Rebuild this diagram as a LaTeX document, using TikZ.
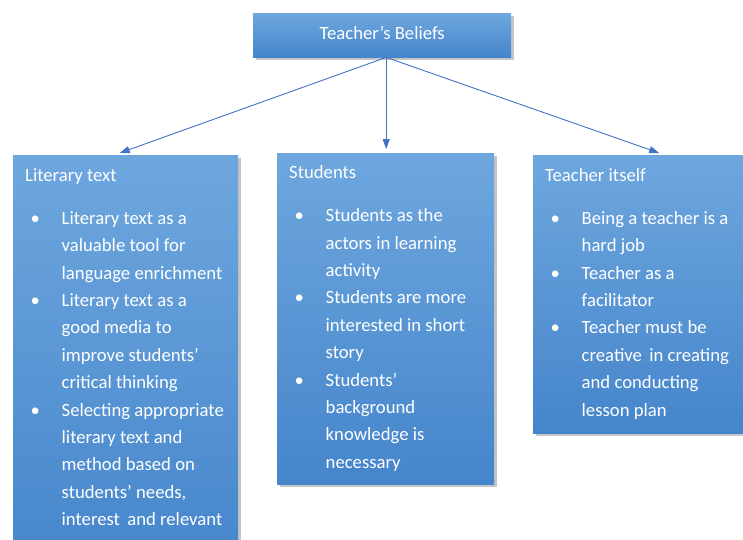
\documentclass[tikz,border=0pt]{standalone}
\usepackage{fontspec}
\setmainfont{Carlito}
\usetikzlibrary{arrows.meta,shadows}

\definecolor{cajaarriba}{HTML}{6EA7DE}
\definecolor{cajaabajo}{HTML}{4585CB}
\definecolor{flechaazul}{HTML}{4472C4}

\newcommand{\punto}{\makebox[36.5pt][l]{\makebox[20pt]{\textbullet}}}
\newcommand{\sangria}{\hspace*{36.5pt}}

\begin{document}
\begin{tikzpicture}[x=1pt,y=-1pt,
	caja/.style={anchor=north west, inner sep=0pt, top color=cajaarriba, bottom color=cajaabajo,
		drop shadow={opacity=0.45,shadow xshift=2.5pt,shadow yshift=-3pt}},
	texto/.style={anchor=north west, inner sep=0pt, align=left, text=white,
		font=\fontsize{18.7}{27.4}\selectfont},
	flecha/.style={draw=flechaazul, line width=0.9pt, -{Triangle[length=10pt,width=7pt]}}]
	%Recortar
	\fill[white] (0,0) rectangle (743,539);
	\path[use as bounding box] (0,0) rectangle (743,539);
	\clip (0,0) rectangle (743,539);

	%Caja de arriba
	\node[caja, minimum width=258pt, minimum height=44pt] (creencias) at (253,13) {};
	\node[texto, anchor=center] (tcreencias) at ([yshift=2pt]creencias.center) {Teacher’s Beliefs};

	%Las tres cajas
	\node[caja, minimum width=225pt, minimum height=420pt] (lit) at (13,155) {};
	\node[caja, minimum width=217pt, minimum height=331pt] (est) at (277,153) {};
	\node[caja, minimum width=225pt, minimum height=278pt] (prof) at (533,155) {};

	%Textos (el \strut fija la primera linea)
	\node[texto] (tlit) at ([xshift=12pt,yshift=-7pt]lit.north west)
		{\strut Literary text\\[15.6pt]
		\punto Literary text as a\\ \sangria valuable tool for\\ \sangria language enrichment\\
		\punto Literary text as a\\ \sangria good media to\\ \sangria improve students’\\ \sangria critical thinking\\
		\punto Selecting appropriate\\ \sangria literary text and\\ \sangria method based on\\
		\sangria students’ needs,\\ \sangria interest\, and relevant};
	\node[texto] (test) at ([xshift=12pt,yshift=-6.3pt]est.north west)
		{\strut Students\\[15.6pt]
		\punto Students as the\\ \sangria actors in learning\\ \sangria activity\\
		\punto Students are more\\ \sangria interested in short\\ \sangria story\\
		\punto Students’\\ \sangria background\\ \sangria knowledge is\\ \sangria necessary};
	\node[texto] (tprof) at ([xshift=12pt,yshift=-7pt]prof.north west)
		{\strut Teacher itself\\[15.6pt]
		\punto Being a teacher is a\\ \sangria hard job\\
		\punto Teacher as a\\ \sangria facilitator\\
		\punto Teacher must be\\ \sangria creative\, in creating\\ \sangria and conducting\\ \sangria lesson plan};

	%Flechas
	\draw[flecha] ([xshift=4pt]creencias.south) -- ([xshift=-6pt,yshift=2pt]lit.north);
	\draw[flecha] ([xshift=4pt]creencias.south) -- ([xshift=0.5pt,yshift=4pt]est.north);
	\draw[flecha] ([xshift=4pt]creencias.south) -- ([xshift=13.5pt,yshift=2pt]prof.north);
\end{tikzpicture}
\end{document}
